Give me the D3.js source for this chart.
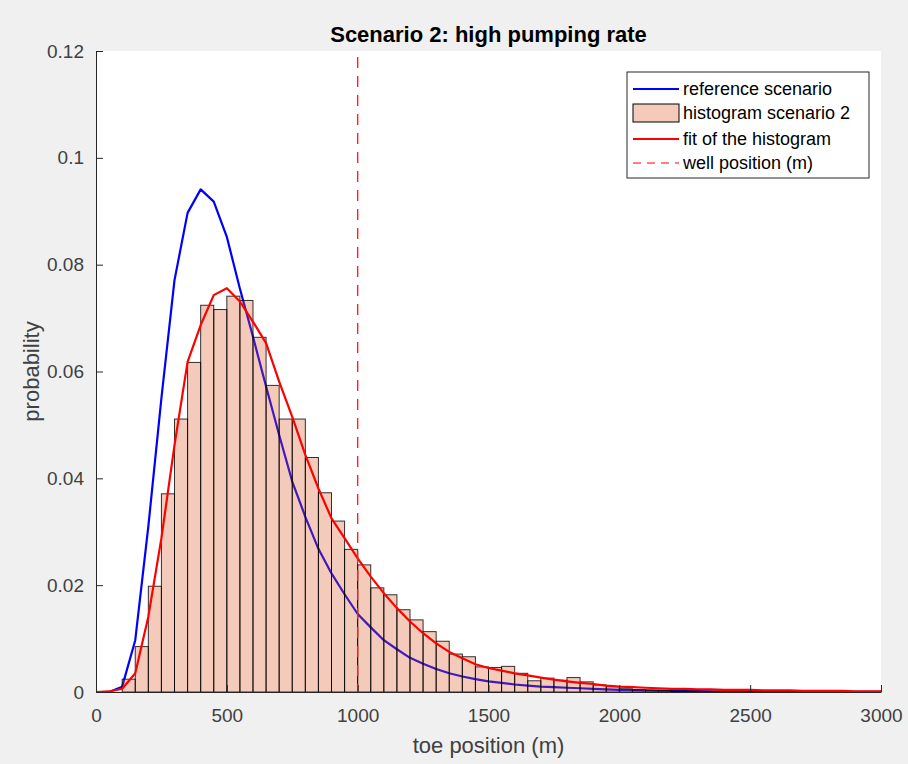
<!DOCTYPE html>
<html>
<head>
<meta charset="utf-8">
<script src="https://cdn.jsdelivr.net/npm/d3@7"></script>
<style>
  html, body { margin: 0; padding: 0; background: #f0f0f0; }
  svg { display: block; font-family: "Liberation Sans", Arial, sans-serif; }
</style>
</head>
<body>
<div id="chart"></div>
<script>
// sampled positions of both curves (m)
const curveX = d3.range(0, 3001, 50)

const referenceCurve = [
    0, 0, 0.001, 0.0097, 0.031, 0.055, 0.0771, 0.0897, 0.0941, 0.0918,
    0.0852, 0.0755, 0.0665, 0.0572, 0.0481, 0.0394, 0.0328, 0.0268, 0.0222, 0.0183,
    0.0146, 0.0121, 0.0097, 0.0080, 0.0064, 0.0053, 0.0043, 0.0035, 0.0029, 0.0024,
    0.0020, 0.0017, 0.0014, 0.0012, 0.0010, 0.0009, 0.0008, 0.0007, 0.0006, 0.0005,
    0.0004, 0.00035, 0.0003, 0.00026, 0.00022, 0.00019, 0.00016, 0.00014, 0.00012, 0.0001,
    0.00009, 0.00008, 0.00007, 0.00006, 0.00005, 0.00004, 0.00004, 0.00003, 0.00003, 0.00002,
    0.00002
]

const fitCurve = [
    0, 0.0001, 0.0006, 0.0035, 0.0141, 0.0288, 0.0462, 0.0618, 0.0687, 0.0743,
    0.0756, 0.0731, 0.0693, 0.0653, 0.0581, 0.0515, 0.0444, 0.0381, 0.0325, 0.0288,
    0.025, 0.0216, 0.0185, 0.0157, 0.0132, 0.0110, 0.0091, 0.0075, 0.0063, 0.0052,
    0.0045, 0.0040, 0.0035, 0.0031, 0.0027, 0.0023, 0.0020, 0.0017, 0.0015, 0.0012,
    0.0010, 0.0009, 0.0008, 0.0007, 0.0006, 0.0006, 0.0005, 0.0005, 0.0004, 0.0004,
    0.0004, 0.0003, 0.0003, 0.0003, 0.0002, 0.0002, 0.0002, 0.0002, 0.0001, 0.0001,
    0.0001
]

// histogram: bins of 50 m starting at 100 m
const binStart = 100
const binWidth = 50
const histValues = [
    0.0024, 0.0085, 0.0198, 0.0371, 0.0511, 0.0617, 0.0724, 0.0716, 0.0741, 0.0733,
    0.0664, 0.0574, 0.0511, 0.0511, 0.0439, 0.0373, 0.0320, 0.0267, 0.0238, 0.0195,
    0.0182, 0.0154, 0.0135, 0.0113, 0.0095, 0.0071, 0.0066, 0.0047, 0.0046, 0.0048,
    0.0035, 0.0021, 0.0026, 0.0022, 0.0027, 0.0019, 0.0013, 0.0010, 0.0006, 0.0004,
    0.0003, 0.0003, 0.0002, 0.0002, 0.0001
]

const wellPosition = 1000
const xTicks = [0, 500, 1000, 1500, 2000, 2500, 3000]
const yTicks = [0, 0.02, 0.04, 0.06, 0.08, 0.1, 0.12]
const legendLabels = ["reference scenario", "histogram scenario 2", "fit of the histogram", "well position (m)"]

const W = 908, H = 764
const margin = { top: 51, right: 27, bottom: 72, left: 96 }
const width = W - margin.left - margin.right
const height = H - margin.top - margin.bottom

const AXIS = "#262626"
const TICKTEXT = "#404040"

const svg = d3.select("#chart").append("svg")
    .attr("width", W)
    .attr("height", H)

svg.append("rect").attr("width", W).attr("height", H).attr("fill", "#f0f0f0")

const g = svg.append("g")
    .attr("transform", "translate(" + margin.left + "," + margin.top + ")")

const x = d3.scaleLinear().domain([0, 3000]).range([0, width])
const y = d3.scaleLinear().domain([0, 0.12]).range([height, 0])

g.append("rect").attr("width", width).attr("height", height).attr("fill", "#fff")

g.append("clipPath").attr("id", "plotclip")
    .append("rect").attr("x", -2).attr("y", -2).attr("width", width + 4).attr("height", height + 4)

const plot = g.append("g").attr("clip-path", "url(#plotclip)")

const line = d3.line()
    .x(function (d) { return x(d[0]) })
    .y(function (d) { return y(d[1]) })

// reference curve first, the histogram is semi transparent over it
plot.append("path")
    .datum(curveX.map(function (v, i) { return [v, referenceCurve[i]] }))
    .attr("d", line)
    .attr("fill", "none")
    .attr("stroke", "#0000ff")
    .attr("stroke-width", 2.2)
    .attr("stroke-linejoin", "round")

plot.append("g")
    .selectAll("rect")
    .data(histValues)
    .enter()
    .append("rect")
    .attr("x", function (d, i) { return x(binStart + i * binWidth) })
    .attr("width", x(binWidth) - x(0))
    .attr("y", function (d) { return y(d) })
    .attr("height", function (d) { return y(0) - y(d) })
    .attr("fill", "rgba(217,83,25,0.3)")
    .attr("stroke", "rgba(0,0,0,0.8)")
    .attr("stroke-width", 1)

plot.append("path")
    .datum(curveX.map(function (v, i) { return [v, fitCurve[i]] }))
    .attr("d", line)
    .attr("fill", "none")
    .attr("stroke", "#ff0000")
    .attr("stroke-width", 2.2)
    .attr("stroke-linejoin", "round")

plot.append("line")
    .attr("x1", x(wellPosition)).attr("x2", x(wellPosition))
    .attr("y1", 6).attr("y2", height)
    .attr("stroke", "#ff2020")
    .attr("stroke-width", 1.4)
    .attr("stroke-dasharray", "11,8")

// axes, matlab style: ticks inside, no box
const xAxis = g.append("g")
    .attr("transform", "translate(0," + height + ")")
    .call(d3.axisBottom(x).tickValues(xTicks).tickSize(-7).tickPadding(17).tickSizeOuter(0)
        .tickFormat(d3.format("d")))
const yAxis = g.append("g")
    .call(d3.axisLeft(y).tickValues(yTicks).tickSize(-7).tickPadding(12).tickSizeOuter(0)
        .tickFormat(function (d) { return d === 0 ? "0" : String(+d.toFixed(2)) }))

;[xAxis, yAxis].forEach(function (a) {
    a.select(".domain").attr("stroke", AXIS).attr("stroke-width", 1)
    a.selectAll(".tick line").attr("stroke", AXIS).attr("stroke-width", 1)
    a.selectAll(".tick text").attr("fill", TICKTEXT).style("font-size", "19px")
})
xAxis.selectAll(".tick text").attr("dy", "0.71em")

g.append("text")
    .attr("x", width / 2)
    .attr("y", -9)
    .attr("text-anchor", "middle")
    .style("font-size", "22px")
    .style("font-weight", "bold")
    .attr("fill", "#000")
    .text("Scenario 2: high pumping rate")

g.append("text")
    .attr("x", width / 2)
    .attr("y", height + 61)
    .attr("text-anchor", "middle")
    .style("font-size", "22px")
    .attr("fill", TICKTEXT)
    .text("toe position (m)")

g.append("text")
    .attr("transform", "translate(-57," + (height / 2) + ") rotate(-90)")
    .attr("text-anchor", "middle")
    .style("font-size", "22px")
    .attr("fill", TICKTEXT)
    .text("probability")

// legend
const lg = svg.append("g").attr("transform", "translate(627,72)")
lg.append("rect")
    .attr("width", 242).attr("height", 106)
    .attr("fill", "#fff")
    .attr("stroke", "#262626")
    .attr("stroke-width", 1)

const rowY = [17, 41, 67, 91]
const sample = lg.selectAll(".entry")
    .data(legendLabels)
    .enter().append("g")
    .attr("class", "entry")
    .attr("transform", function (d, i) { return "translate(0," + rowY[i] + ")" })

sample.append("text")
    .attr("x", 56)
    .attr("dy", "0.35em")
    .style("font-size", "18px")
    .attr("fill", "#000")
    .text(function (d) { return d })

sample.each(function (d, i) {
    const s = d3.select(this)
    if (i === 1) {
        s.append("rect").attr("x", 6).attr("y", -9).attr("width", 46).attr("height", 18)
            .attr("fill", "rgba(217,83,25,0.3)").attr("stroke", "#000").attr("stroke-width", 1)
    } else {
        s.append("line").attr("x1", 6).attr("x2", 52).attr("y1", 0).attr("y2", 0)
            .attr("stroke", i === 0 ? "#0000ff" : "#ff0000")
            .attr("stroke-width", i === 3 ? 1 : 2.2)
            .attr("stroke-dasharray", i === 3 ? "8,6" : null)
    }
})
</script>
</body>
</html>
